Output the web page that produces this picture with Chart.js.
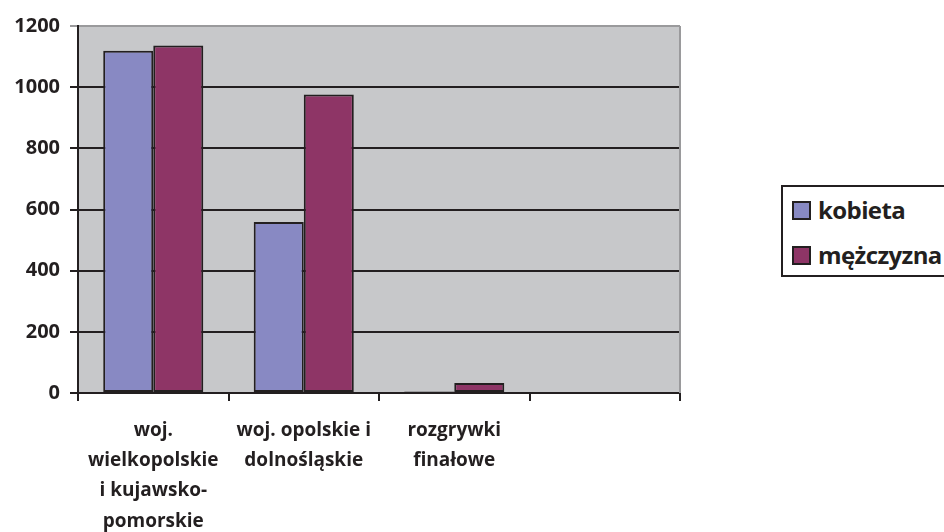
<!DOCTYPE html>
<html>
<head>
<meta charset="utf-8">
<script src="https://cdn.jsdelivr.net/npm/chart.js@4.4.0/dist/chart.umd.min.js"></script>
<style>
    body { margin: 0; background: #fff; }
    #wrap { position: relative; width: 944px; height: 532px; overflow: hidden; }
    #legend {
        position: absolute; left: 781px; top: 185px; width: 200px; height: 88px;
        border: 2px solid #231f20; background: #fff;
        font-family: 'Open Sans', sans-serif; font-weight: 700; font-size: 24px; color: #231f20;
    }
    .item { position: absolute; left: 9px; height: 26px; line-height: 26px; white-space: nowrap; letter-spacing: -0.6px; }
    .item i { display: inline-block; width: 15px; height: 15px; border: 2px solid #231f20; vertical-align: -1px; margin-right: 7px; }
</style>
</head>
<body>
<div id="wrap">
    <canvas id="chart"></canvas>
    <div id="legend"></div>
</div>
<script>
// data
const categories = [
    ['woj.', 'wielkopolskie', 'i kujawsko-', 'pomorskie'],
    ['woj. opolskie i', 'dolnośląskie'],
    ['rozgrywki', 'finałowe'],
    ''
];
const kobieta = [1119, 559, 5, null];
const mezczyzna = [1136, 976, 33, null];
const seriesNames = ['kobieta', 'mężczyzna'];
const yTicks = [0, 200, 400, 600, 800, 1000, 1200];

const colors = {
    blue: '#8889c3',
    maroon: '#8e3566',
    dark: '#231f20',
    plotBg: '#c7c8ca',
    plotEdge: '#9a9a9c'
};

// plot background + grey right edge
const plotFrame = {
    id: 'plotFrame',
    beforeDraw(chart) {
        const { ctx, chartArea: a } = chart;
        ctx.save();
        ctx.fillStyle = colors.plotBg;
        ctx.fillRect(a.left, a.top, a.right - a.left, a.bottom - a.top);
        ctx.restore();
    },
    afterDatasetsDraw(chart) {
        const { ctx, chartArea: a } = chart;
        ctx.save();
        ctx.strokeStyle = colors.plotEdge;
        ctx.lineWidth = 2;
        ctx.beginPath();
        ctx.moveTo(a.right, a.top);
        ctx.lineTo(a.right, a.bottom);
        ctx.stroke();
        ctx.restore();
    }
};

const font = { family: "'Open Sans', sans-serif", weight: 'bold', size: 19 };

new Chart(document.getElementById('chart'), {
    type: 'bar',
    data: {
        labels: categories,
        datasets: [{
            label: seriesNames[0],
            data: kobieta,
            backgroundColor: colors.blue,
            borderColor: colors.dark,
            borderWidth: 2,
            borderSkipped: false
        }, {
            label: seriesNames[1],
            data: mezczyzna,
            backgroundColor: colors.maroon,
            borderColor: colors.dark,
            borderWidth: 2,
            borderSkipped: false
        }]
    },
    options: {
        responsive: true,
        maintainAspectRatio: false,
        animation: false,
        datasets: { bar: { categoryPercentage: 0.665, barPercentage: 1 } },
        layout: { padding: { left: 0, top: 26, right: 264, bottom: 0 } },
        plugins: {
            legend: { display: false },
            tooltip: { enabled: false }
        },
        scales: {
            x: {
                grid: {
                    offset: true,
                    drawOnChartArea: false,
                    color: colors.dark,
                    lineWidth: 2,
                    tickLength: 8
                },
                border: { color: colors.dark, width: 2 },
                ticks: {
                    color: colors.dark,
                    font: { ...font, lineHeight: 1.6 },
                    padding: 14,
                    maxRotation: 0,
                    autoSkip: false
                },
                afterFit(scale) { scale.height = 139; }
            },
            y: {
                min: 0,
                max: 1200,
                afterBuildTicks(scale) { scale.ticks = yTicks.map(v => ({ value: v })); },
                grid: {
                    color: ctx => (ctx.tick && ctx.tick.value === 1200 ? colors.plotEdge : colors.dark),
                    lineWidth: 2,
                    tickLength: 8
                },
                border: { color: colors.dark, width: 2 },
                ticks: {
                    color: colors.dark,
                    font: { ...font, size: 20 },
                    padding: 10,
                    callback: v => String(v)
                },
                afterFit(scale) { scale.width = 78; }
            }
        }
    },
    plugins: [plotFrame]
});

// legend
const legend = document.getElementById('legend');
[colors.blue, colors.maroon].forEach((c, i) => {
    const row = document.createElement('div');
    row.className = 'item';
    row.style.top = (10 + i * 45) + 'px';
    row.innerHTML = '<i style="background:' + c + '"></i>' + seriesNames[i];
    legend.appendChild(row);
});
</script>
</body>
</html>
